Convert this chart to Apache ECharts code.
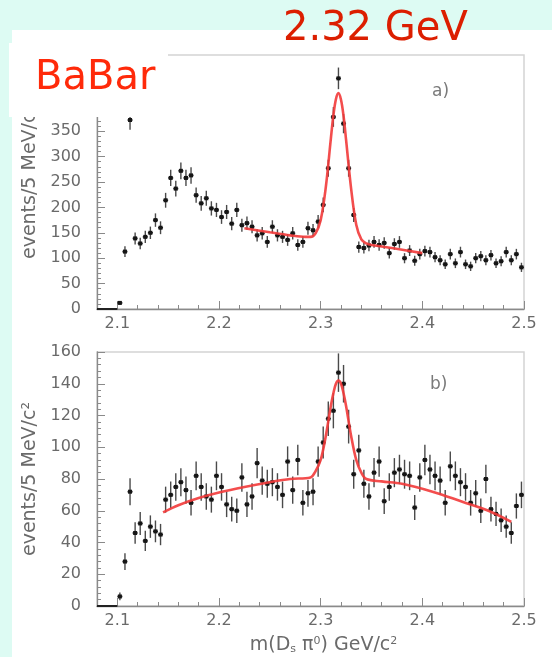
<!DOCTYPE html>
<html>
<head>
<meta charset="utf-8">
<script src="https://cdn.jsdelivr.net/npm/echarts@6/dist/echarts.min.js"></script>
<style>
  html, body { margin: 0; padding: 0; background: #ddfbf3; }
  #chart { width: 552px; height: 657px; }
</style>
</head>
<body>
<div id="chart"></div>
<script>
// m(Ds pi0) bin centres, 5 MeV bins from 2.100 to 2.500 GeV/c^2
const binCentres = [
  2.1025, 2.1075, 2.1125, 2.1175, 2.1225, 2.1275, 2.1325, 2.1375, 2.1425, 2.1475,
  2.1525, 2.1575, 2.1625, 2.1675, 2.1725, 2.1775, 2.1825, 2.1875, 2.1925, 2.1975,
  2.2025, 2.2075, 2.2125, 2.2175, 2.2225, 2.2275, 2.2325, 2.2375, 2.2425, 2.2475,
  2.2525, 2.2575, 2.2625, 2.2675, 2.2725, 2.2775, 2.2825, 2.2875, 2.2925, 2.2975,
  2.3025, 2.3075, 2.3125, 2.3175, 2.3225, 2.3275, 2.3325, 2.3375, 2.3425, 2.3475,
  2.3525, 2.3575, 2.3625, 2.3675, 2.3725, 2.3775, 2.3825, 2.3875, 2.3925, 2.3975,
  2.4025, 2.4075, 2.4125, 2.4175, 2.4225, 2.4275, 2.4325, 2.4375, 2.4425, 2.4475,
  2.4525, 2.4575, 2.4625, 2.4675, 2.4725, 2.4775, 2.4825, 2.4875, 2.4925, 2.4975
];

// panel a) events per bin
const countsA = [
  12, 113, 372, 139, 129, 142, 150, 175, 160, 214,
  258, 237, 272, 258, 263, 224, 208, 218, 198, 195,
  181, 191, 168, 195, 165, 169, 162, 145, 149, 132,
  162, 145, 142, 136, 149, 126, 132, 159, 155, 172,
  205, 277, 378, 454, 365, 277, 185, 122, 120, 125,
  132, 126, 130, 110, 128, 132, 100, 115, 95, 108,
  114, 112, 102, 96, 88, 108, 90, 112, 88, 84,
  100, 104, 96, 106, 90, 94, 112, 96, 108, 82
];

// panel b) events per bin
const countsB = [
  6, 28, 72, 46, 52, 41, 50, 47, 45, 67,
  70, 75, 78, 73, 65, 82, 75, 69, 67, 82,
  75, 64, 61, 60, 81, 64, 69, 90, 79, 77,
  78, 75, 70, 91, 73, 92, 65, 71, 72, 91,
  103, 118, 123, 147, 140, 113, 83, 98, 77, 69,
  84, 91, 66, 75, 84, 86, 83, 82, 62, 81,
  92, 86, 82, 79, 65, 88, 82, 78, 75, 65,
  71, 60, 80, 61, 58, 54, 50, 46, 63, 70
];

// fitted curve, panel a)
const fitAMass = [2.225, 2.25, 2.27, 2.285, 2.29, 2.295, 2.30, 2.305, 2.31, 2.3125, 2.315,
  2.3175, 2.32, 2.3225, 2.325, 2.33, 2.335, 2.34, 2.345, 2.35, 2.37, 2.40];
const fitAValue = [159, 151, 145, 142, 142, 149, 175, 239, 335, 381, 413,
  425, 412, 380, 333, 236, 166, 137, 129, 126, 120, 110];

// fitted curve, panel b)
const fitBMass = [2.145, 2.16, 2.18, 2.20, 2.225, 2.25, 2.27, 2.29, 2.295, 2.30, 2.305, 2.31,
  2.3125, 2.315, 2.3175, 2.32, 2.3225, 2.325, 2.33, 2.335, 2.34, 2.345, 2.36, 2.38, 2.41,
  2.44, 2.465, 2.4875];
const fitBValue = [59, 63.5, 68, 71.5, 75, 78, 80, 81, 85, 92, 107, 126,
  134, 140, 142, 140, 134, 126, 107, 92, 84, 80, 78.5, 77, 72,
  65.5, 60, 53];

// empty region below threshold
const belowThresholdMass = [2.08, 2.10];
const belowThresholdValue = [0, 0];

// axis settings
const massMin = 2.08, massMax = 2.5;
const yTicksA = [0, 50, 100, 150, 200, 250, 300, 350, 400, 450, 500];
const yTicksB = [0, 20, 40, 60, 80, 100, 120, 140, 160];
const yTitle = 'events/5 MeV/c²';

const FONT = 'DejaVu Sans';
const AXIS_GREY = '#8a8a8a';
const LABEL_GREY = '#6a6a6a';

const chart = echarts.init(document.getElementById('chart'), null, { renderer: 'canvas' });

function withErrors(counts) {
  // Poisson error on each bin count
  return binCentres.map((m, i) => [m, counts[i], Math.sqrt(counts[i])]);
}

function renderPoint(params, api) {
  const x = api.value(0), y = api.value(1), e = api.value(2);
  const c = api.coord([x, y]);
  const hi = api.coord([x, y + e]);
  const lo = api.coord([x, Math.max(0, y - e)]);
  return {
    type: 'group',
    children: [
      { type: 'line', shape: { x1: c[0], y1: hi[1], x2: c[0], y2: lo[1] },
        style: { stroke: '#4a4a4a', lineWidth: 1.4 } },
      { type: 'line', shape: { x1: c[0] - 2.5, y1: c[1], x2: c[0] + 2.5, y2: c[1] },
        style: { stroke: '#222', lineWidth: 1.6 } },
      { type: 'rect', shape: { x: c[0] - 2, y: c[1] - 2, width: 4, height: 4 },
        style: { fill: '#151515' } }
    ]
  };
}

function pairs(xs, ys) { return xs.map((x, i) => [x, ys[i]]); }

// minor-tick axis (every 20 MeV) and labelled axis (every 100 MeV) per panel
function massAxes(gridIndex, showName) {
  return [
    {
      type: 'value', gridIndex, position: 'bottom', min: massMin, max: massMax, interval: 0.02,
      axisLine: { show: true, onZero: false, lineStyle: { color: AXIS_GREY, width: 1.3 } },
      axisTick: { show: true, inside: true, length: 4, lineStyle: { color: AXIS_GREY } },
      axisLabel: { show: false }, splitLine: { show: false }
    },
    {
      type: 'value', gridIndex, position: 'bottom', min: massMin, max: massMax, splitNumber: 4,
      axisLine: { show: false, onZero: false },
      axisTick: { show: true, inside: true, length: 8, lineStyle: { color: AXIS_GREY } },
      axisLabel: {
        show: true, margin: 7, color: LABEL_GREY, fontFamily: FONT, fontSize: 16,
        formatter: v => Math.abs(v * 10 - Math.round(v * 10)) < 1e-6 ? v.toFixed(1) : ''
      },
      splitLine: { show: false },
      name: showName ? 'm(D{sub|s} π{sup|0}) GeV/c{sup|2}' : '',
      nameLocation: 'middle', nameGap: 30,
      nameTextStyle: {
        color: LABEL_GREY, fontFamily: FONT, fontSize: 19, padding: [0, 0, 0, 26],
        rich: {
          sub: { fontSize: 11, fontFamily: FONT, color: LABEL_GREY, verticalAlign: 'bottom', padding: [8, 0, 0, 0] },
          sup: { fontSize: 11, fontFamily: FONT, color: LABEL_GREY, verticalAlign: 'top', padding: [0, 0, 8, 0] }
        }
      }
    }
  ];
}

function countAxis(gridIndex, ticks) {
  return {
    type: 'value', gridIndex, position: 'left',
    min: ticks[0], max: ticks[ticks.length - 1], interval: ticks[1] - ticks[0],
    axisLine: { show: true, lineStyle: { color: AXIS_GREY, width: 1.3 } },
    axisTick: { show: true, inside: true, length: 8, lineStyle: { color: AXIS_GREY } },
    minorTick: { show: true, splitNumber: 5, length: 4, lineStyle: { color: AXIS_GREY } },
    axisLabel: { show: true, margin: 16, color: LABEL_GREY, fontFamily: FONT, fontSize: 16 },
    splitLine: { show: false },
    name: yTitle, nameLocation: 'middle', nameGap: 53,
    nameTextStyle: { color: LABEL_GREY, fontFamily: FONT, fontSize: 19 }
  };
}

const fitStyle = { color: '#f23a3a', width: 2.6, opacity: 0.9 };

const option = {
  backgroundColor: '#ddfbf3',
  animation: false,
  grid: [
    { left: 97, right: 28, top: 55, height: 254, show: true, borderColor: '#d4d4d4', borderWidth: 1.5, backgroundColor: 'transparent' },
    { left: 97, right: 28, top: 352, height: 254, show: true, borderColor: '#d4d4d4', borderWidth: 1.5, backgroundColor: 'transparent' }
  ],
  xAxis: [...massAxes(0, false), ...massAxes(1, true)],
  yAxis: [countAxis(0, yTicksA), countAxis(1, yTicksB)],
  series: [
    { type: 'line', xAxisIndex: 0, yAxisIndex: 0, data: pairs(belowThresholdMass, belowThresholdValue),
      showSymbol: false, lineStyle: { color: '#222', width: 2 }, z: 3 },
    { type: 'custom', xAxisIndex: 0, yAxisIndex: 0, data: withErrors(countsA),
      renderItem: renderPoint, clip: true, z: 4 },
    { type: 'line', xAxisIndex: 0, yAxisIndex: 0, data: pairs(fitAMass, fitAValue),
      showSymbol: false, smooth: 0.35, lineStyle: fitStyle, z: 5 },

    { type: 'line', xAxisIndex: 2, yAxisIndex: 1, data: pairs(belowThresholdMass, belowThresholdValue),
      showSymbol: false, lineStyle: { color: '#222', width: 2 }, z: 3 },
    { type: 'custom', xAxisIndex: 2, yAxisIndex: 1, data: withErrors(countsB),
      renderItem: renderPoint, clip: true, z: 4 },
    { type: 'line', xAxisIndex: 2, yAxisIndex: 1, data: pairs(fitBMass, fitBValue),
      showSymbol: false, smooth: 0.35, lineStyle: fitStyle, z: 5 }
  ],
  graphic: [
    // white slide panel
    { type: 'rect', left: 12, top: 30, z: -100, shape: { width: 560, height: 640 }, style: { fill: '#ffffff' } },
    // panel tags
    { type: 'text', left: 432, top: 83, z: 10,
      style: { text: 'a)', fontFamily: FONT, fontSize: 17, fill: '#7a7a7a' } },
    { type: 'text', left: 430, top: 376, z: 10,
      style: { text: 'b)', fontFamily: FONT, fontSize: 17, fill: '#7a7a7a' } },
    // experiment label box
    { type: 'rect', left: 9, top: 43, z: 100, shape: { width: 159, height: 74 }, style: { fill: '#ffffff' } },
    { type: 'text', x: 35, y: 79, z: 101,
      style: { text: 'BaBar', fontFamily: FONT, fontSize: 40, fill: '#ff2a0a', verticalAlign: 'middle', align: 'left' } },
    { type: 'text', x: 283, y: 30, z: 101,
      style: { text: '2.32 GeV', fontFamily: FONT, fontSize: 40, fill: '#dc1e00', verticalAlign: 'middle', align: 'left' } }
  ]
};

chart.setOption(option);
</script>
</body>
</html>
